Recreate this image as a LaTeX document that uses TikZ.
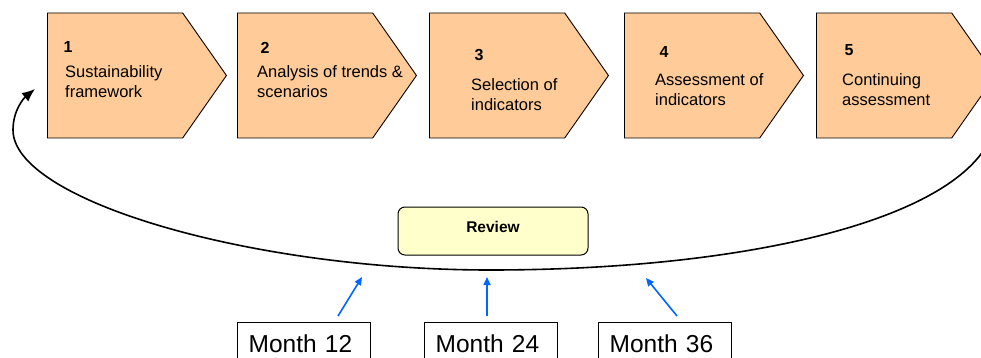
\documentclass[tikz,border=0pt]{standalone}
\usepackage{fontspec}
\setmainfont{Liberation Sans}
\usetikzlibrary{positioning,arrows.meta,shapes.symbols}
\definecolor{stepfill}{HTML}{FFCC99}
\definecolor{reviewfill}{HTML}{FFFFCC}
\definecolor{markblue}{HTML}{0066FF}

\begin{document}
\begin{tikzpicture}[x=1pt,y=-1pt,
    stepbox/.style={signal,signal to=east,signal pointer angle=110,draw=black,
      fill=stepfill,line width=0.9pt,minimum width=179pt,minimum height=125pt,
      inner sep=0pt,anchor=west},
    stepnum/.style={font=\fontsize{16}{19}\selectfont\bfseries,inner sep=0pt},
    steptxt/.style={font=\fontsize{16.5}{19.5}\selectfont,align=left,inner sep=0pt,anchor=west},
    reviewbox/.style={draw=black,fill=reviewfill,rounded corners=7pt,line width=1pt,
      minimum width=190pt,minimum height=48pt,text height=11pt,text depth=8pt,
      font=\fontsize{15.5}{18}\selectfont\bfseries},
    monthbox/.style={draw=black,line width=1.3pt,anchor=north west,minimum height=42pt,
      text width=111pt,inner xsep=11pt,align=left,font=\fontsize{24.5}{28}\selectfont},
    loop arrow/.style={line width=1.6pt,-{Latex[length=13pt,width=11pt]}},
    mark arrow/.style={markblue,line width=1.6pt,-{Triangle[length=8pt,width=7pt]}}]
  \path[use as bounding box,clip] (0,0) rectangle (981,358);
  % steps
  \node[stepbox] (s1) at (47,75.5) {};
  \node[stepbox] (s2) at (237,75.5) {};
  \node[stepbox] (s3) at (429,75.5) {};
  \node[stepbox] (s4) at (624,75.5) {};
  \node[stepbox] (s5) at (816,75.5) {};
  \node[stepnum] (n1) at (68,47) {1};
  \node[stepnum] (n2) at (265,48) {2};
  \node[stepnum] (n3) at (479,55) {3};
  \node[stepnum] (n4) at (664,52) {4};
  \node[stepnum] (n5) at (849,50) {5};
  \node[steptxt] (t1) at (65,81.5) {Sustainability\\framework};
  \node[steptxt] (t2) at (257,81.5) {Analysis of trends \&\\scenarios};
  \node[steptxt] (t3) at (471,94.5) {Selection of\\indicators};
  \node[steptxt] (t4) at (655,89.5) {Assessment of\\indicators};
  \node[steptxt] (t5) at (842,89.5) {Continuing\\assessment};
  % review loop
  \node[reviewbox] (rev) at (493,231) {Review};
  \coordinate (cs) at (995,125);
  \coordinate (cb) at (490,270);
  \coordinate (cl) at (13,130);
  \coordinate (ct) at (35,89);
  \draw[loop arrow] (cs) .. controls (975,215) and (760,270) .. (cb)
    .. controls (250,270) and (13,200) .. (cl)
    .. controls (13,110) and (24,98) .. (ct);
  % months
  \node[monthbox] (m12) at (237,322) {Month 12};
  \node[monthbox] (m24) at (424,322) {Month 24};
  \node[monthbox] (m36) at (598,322) {Month 36};
  \coordinate (a12) at (338,316);
  \coordinate (b12) at (362,277);
  \coordinate (a24) at (487,316);
  \coordinate (b24) at (487,277);
  \coordinate (a36) at (677,316);
  \coordinate (b36) at (646,278);
  \draw[mark arrow] (a12) -- (b12);
  \draw[mark arrow] (a24) -- (b24);
  \draw[mark arrow] (a36) -- (b36);
\end{tikzpicture}
\end{document}
